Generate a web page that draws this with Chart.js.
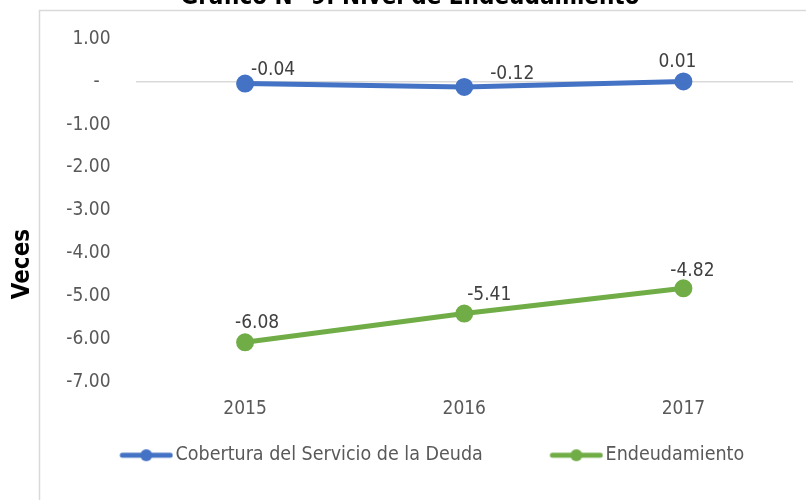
<!DOCTYPE html>
<html>
<head>
<meta charset="utf-8">
<script src="https://cdn.jsdelivr.net/npm/chart.js@4"></script>
<style>
  html, body { margin: 0; padding: 0; background: #fff; overflow: hidden; }
  #wrap { width: 806px; height: 500px; }
</style>
</head>
<body>
<div id="wrap"><canvas id="nivelChart" width="806" height="500"></canvas></div>
<script>
const years = ['2015', '2016', '2017']
const cobertura = [-0.04, -0.12, 0.01]
const endeudamiento = [-6.08, -5.41, -4.82]
const yTicks = [1, 0, -1, -2, -3, -4, -5, -6, -7]

const chartTitle = 'Gráfico N° 9: Nivel de Endeudamiento'
const axisTitle = 'Veces'

const fontFamily = '"DejaVu Sans Condensed", "DejaVu Sans", sans-serif'

// legend marker: line with a dot, drawn at the right end of a wider image
// so the gap to the text stays small like in Excel
function legendMarker(color) {
    const c = document.createElement('canvas')
    c.width = 119
    c.height = 14
    const g = c.getContext('2d')
    const x0 = c.width - 54
    g.strokeStyle = color
    g.lineWidth = 5
    g.lineCap = 'round'
    g.beginPath()
    g.moveTo(x0 + 3, 7)
    g.lineTo(x0 + 51, 7)
    g.stroke()
    g.fillStyle = color
    g.beginPath()
    g.arc(x0 + 27, 7, 6, 0, Math.PI * 2)
    g.fill()
    return c
}

const frameAndTitles = {
    id: 'frameAndTitles',
    afterDraw(chart) {
        const ctx = chart.ctx
        ctx.save()
        ctx.strokeStyle = '#d9d9d9'
        ctx.lineWidth = 1.5
        ctx.beginPath()
        ctx.moveTo(39.5, 500)
        ctx.lineTo(39.5, 10.5)
        ctx.lineTo(806, 10.5)
        ctx.stroke()

        ctx.fillStyle = '#000'
        ctx.font = 'bold 24px ' + fontFamily
        ctx.textAlign = 'center'
        ctx.textBaseline = 'alphabetic'
        ctx.fillText(chartTitle, 410, 4)

        ctx.translate(23, 264)
        ctx.rotate(-Math.PI / 2)
        ctx.font = 'bold 24px ' + fontFamily
        ctx.textBaseline = 'middle'
        ctx.fillText(axisTitle, 0, 0)
        ctx.restore()
    }
}

// value labels above the points, nudged like in the original sheet
const valueLabels = {
    id: 'valueLabels',
    afterDatasetsDraw(chart, args, opts) {
        const ctx = chart.ctx
        ctx.save()
        ctx.font = '19px ' + fontFamily
        ctx.fillStyle = '#404040'
        ctx.textAlign = 'center'
        ctx.textBaseline = 'middle'
        chart.data.datasets.forEach((ds, i) => {
            const meta = chart.getDatasetMeta(i)
            meta.data.forEach((pt, j) => {
                const off = opts.offsets[i][j]
                ctx.fillText(ds.data[j].toFixed(2), pt.x + off[0], pt.y + off[1])
            })
        })
        ctx.restore()
    }
}

const markers = [legendMarker('#4472C4'), legendMarker('#70AD47')]

const ctx = document.getElementById('nivelChart')

new Chart(ctx, {
    type: 'line',
    data: {
        labels: years,
        datasets: [{
            label: 'Cobertura del Servicio de la Deuda',
            data: cobertura,
            borderColor: '#4472C4',
            backgroundColor: '#4472C4',
            borderWidth: 5,
            pointRadius: 6.5,
            pointHoverRadius: 6.5,
            tension: 0
        }, {
            label: 'Endeudamiento',
            data: endeudamiento,
            borderColor: '#70AD47',
            backgroundColor: '#70AD47',
            borderWidth: 5,
            pointRadius: 6.5,
            pointHoverRadius: 6.5,
            tension: 0
        }]
    },
    options: {
        responsive: false,
        animation: false,
        events: [],
        layout: {
            padding: { top: 39, left: 13, right: 13, bottom: 25 }
        },
        scales: {
            x: {
                offset: true,
                grid: { display: false, drawTicks: false },
                border: { display: false },
                ticks: {
                    color: '#595959',
                    font: { family: fontFamily, size: 19 },
                    padding: 16
                }
            },
            y: {
                min: -7,
                max: 1,
                afterBuildTicks: scale => {
                    scale.ticks = yTicks.map(v => ({ value: v }))
                },
                afterFit: scale => { scale.width = 122.5 },
                grid: {
                    drawTicks: false,
                    lineWidth: 1.5,
                    color: c => (c.tick && c.tick.value === 0) ? '#d9d9d9' : 'rgba(0,0,0,0)'
                },
                border: { display: false },
                ticks: {
                    color: '#595959',
                    font: { family: fontFamily, size: 19 },
                    padding: 25,
                    callback: v => v === 0 ? '-  ' : v.toFixed(2)
                }
            }
        },
        plugins: {
            legend: {
                position: 'bottom',
                labels: {
                    usePointStyle: true,
                    pointStyleWidth: 104,
                    color: '#595959',
                    font: { family: fontFamily, size: 19.5 },
                    padding: 9,
                    generateLabels: chart => chart.data.datasets.map((ds, i) => ({
                        text: ds.label,
                        pointStyle: markers[i],
                        fillStyle: ds.borderColor,
                        strokeStyle: ds.borderColor,
                        lineWidth: 0,
                        fontColor: '#595959',
                        hidden: false,
                        datasetIndex: i
                    }))
                }
            },
            tooltip: { enabled: false },
            valueLabels: {
                offsets: [
                    [[28, -13], [48, -13], [-6, -19]],
                    [[12, -19], [25, -19], [9, -17]]
                ]
            }
        }
    },
    plugins: [frameAndTitles, valueLabels]
})
</script>
</body>
</html>
